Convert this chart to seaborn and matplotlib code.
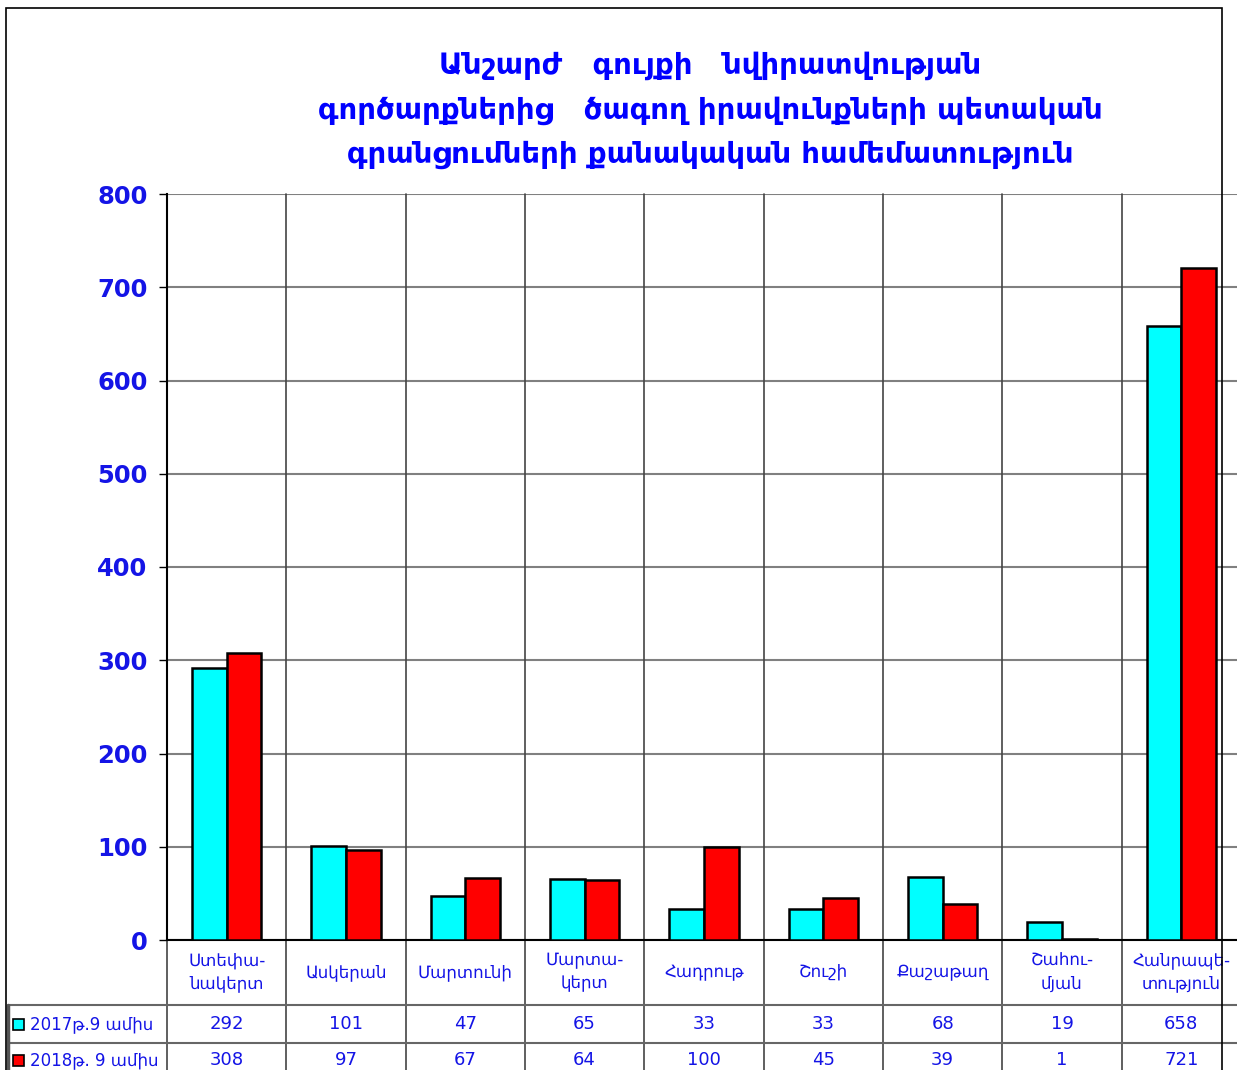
#recreate bar chart with data table (Armenian labels)

import seaborn as sns
from matplotlib import pyplot as plt
from matplotlib.patches import Rectangle
import matplotlib.transforms as mtransforms
import pandas as pd

#chart data
categories = ["Ստեփա-\nնակերտ", "Ասկերան", "Մարտունի", "Մարտա-\nկերտ", "Հադրութ",
              "Շուշի", "Քաշաթաղ", "Շահու-\nմյան", "Հանրապե-\nտություն"]
series_labels = ["2017թ.9 ամիս", "2018թ. 9 ամիս"]
values_2017 = [292, 101, 47, 65, 33, 33, 68, 19, 658]
values_2018 = [308, 97, 67, 64, 100, 45, 39, 1, 721]
colors = ["#00FFFF", "#FF0000"]
title = ("Անշարժ   գույքի   նվիրատվության\n"
         "գործարքներից   ծագող իրավունքների պետական\n"
         "գրանցումների քանակական համեմատություն")

blue = "#1414E6"

#long form table for seaborn
df = pd.DataFrame({
    "cat": categories * 2,
    "value": values_2017 + values_2018,
    "year": [series_labels[0]] * len(categories) + [series_labels[1]] * len(categories),
})

sns.set_style("white")
plt.rcParams['font.family'] = ['DejaVu Sans']

W, H = 1237, 1070
fig = plt.figure(figsize=(W / 100, H / 100), dpi=100)
ax_left, ax_right, ax_top, ax_bottom = 167, 1241, 194, 940
ax = fig.add_axes([ax_left / W, 1 - ax_bottom / H, (ax_right - ax_left) / W, (ax_bottom - ax_top) / H])

sns.barplot(data=df, x="cat", y="value", hue="year", order=categories, hue_order=series_labels,
            palette=colors, width=0.58, edgecolor="black", linewidth=1.8, saturation=1,
            legend=False, ax=ax, zorder=3)

ax.set_xlim(-0.5, len(categories) - 0.5)
ax.set_ylim(0, 800)
ax.set_yticks(range(0, 801, 100))
ax.yaxis.grid(True, color="#808080", linewidth=1.5, zorder=0)
ax.set_axisbelow(True)
ax.set_xticks([])
ax.set_xlabel("")
ax.set_ylabel("")
ax.tick_params(axis="y", direction="out", length=6, width=1, color="black", pad=8,
               labelsize=17.5, labelcolor=blue, left=True)
for lab in ax.get_yticklabels():
    lab.set_fontweight("bold")
for s in ["top", "right"]:
    ax.spines[s].set_visible(False)
ax.spines["left"].set_color("black")
ax.spines["left"].set_linewidth(1.5)
ax.spines["bottom"].set_color("black")
ax.spines["bottom"].set_linewidth(1.5)

#table below plot
ax_w = ax_right - ax_left
ax_h = ax_bottom - ax_top
def fx(px):
    return (px - ax_left) / ax_w
def fy(py):
    return (ax_bottom - py) / ax_h

blend = mtransforms.blended_transform_factory(ax.transData, ax.transAxes)

#vertical category dividers through plot and table
for b in range(len(categories) + 1):
    ax.plot([b - 0.5, b - 0.5], [1, fy(1075)], transform=blend, color="#444444",
            linewidth=1.2, clip_on=False, zorder=1)

#horizontal table lines
for py in [1005, 1043]:
    ax.plot([fx(8), 1.05], [fy(py), fy(py)], transform=ax.transAxes, color="#666666",
            linewidth=1.5, clip_on=False)
ax.plot([fx(8), fx(8)], [fy(1005), fy(1075)], transform=ax.transAxes, color="#555555",
        linewidth=2.5, clip_on=False)

#category labels
for i, c in enumerate(categories):
    ax.text(i, fy(972), c, transform=blend, ha="center", va="center", fontsize=12,
            color=blue, linespacing=1.35)

#values
for r, vals in enumerate([values_2017, values_2018]):
    py = [1024, 1060][r]
    for i, v in enumerate(vals):
        ax.text(i, fy(py), str(v), transform=blend, ha="center", va="center",
                fontsize=13, color=blue)
    ax.add_patch(Rectangle((fx(13), fy(py + 6)), 11 / ax_w, 11 / ax_h, transform=ax.transAxes,
                           facecolor=colors[r], edgecolor="black", linewidth=1.2, clip_on=False))
    ax.text(fx(30), fy(py), series_labels[r], transform=ax.transAxes, ha="left", va="center",
            fontsize=12, color=blue)

#title
fig.text(710 / W, 1 - 110 / H, title, ha="center", va="center", fontsize=21,
         fontweight="bold", color="#0000FF", linespacing=1.73)

#outer frame
fig.patches.append(Rectangle((6 / W, -0.01), (1222 - 6) / W, (H - 8) / H + 0.01,
                             transform=fig.transFigure, fill=False, edgecolor="black",
                             linewidth=1.2, zorder=5))

fig.savefig("out.png", dpi=100)
